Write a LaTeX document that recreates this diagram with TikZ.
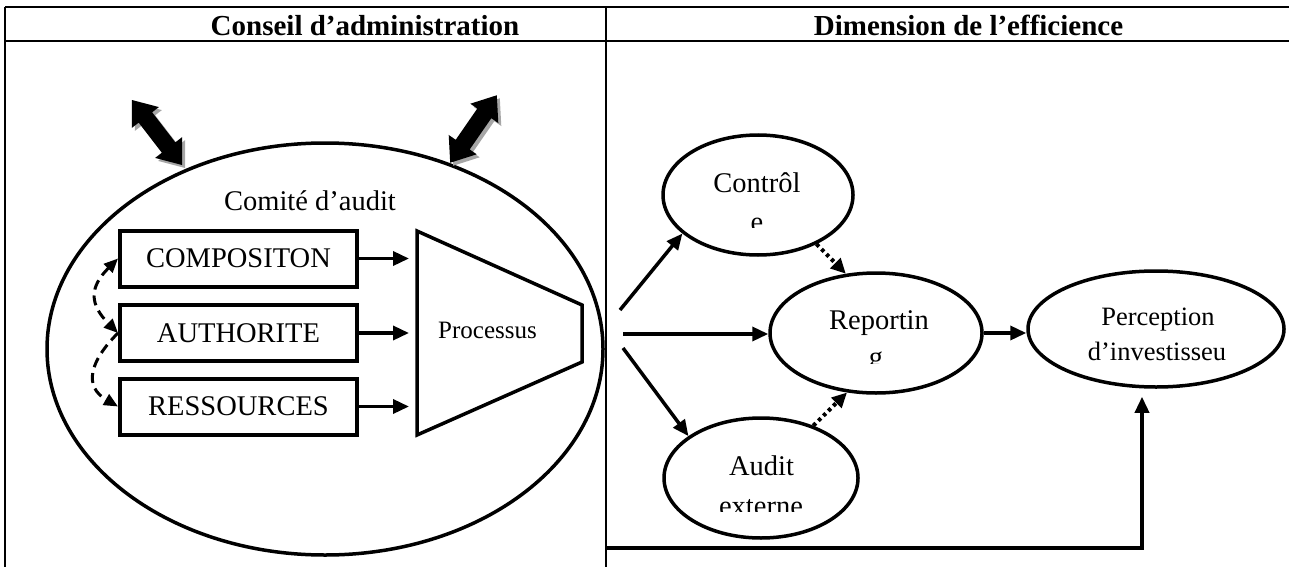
\documentclass[tikz,border=0pt]{standalone}
\usepackage{fontspec}
\setmainfont{Liberation Serif}
\usetikzlibrary{arrows.meta,shapes.geometric,calc}
\tikzset{
  hdr/.style={font=\fontsize{29}{33}\selectfont\bfseries, inner sep=0pt, anchor=base},
  bigtxt/.style={font=\fontsize{28.5}{34}\selectfont, inner sep=0pt, anchor=base},
  midtxt/.style={font=\fontsize{26.5}{32}\selectfont, inner sep=0pt, anchor=base},
  smalltxt/.style={font=\fontsize{25}{30}\selectfont, inner sep=0pt, anchor=base},
  boxnode/.style={draw, line width=4pt, minimum width=237pt, minimum height=56pt, inner sep=0pt, font=\fontsize{28.5}{34}\selectfont},
  ell/.style={draw, ellipse, line width=3.5pt, inner sep=0pt},
  tip/.style={-{Triangle[length=16pt,width=14pt]}},
  conn/.style={line width=3.5pt, tip},
  dotconn/.style={line width=4pt, dash pattern=on 3.5pt off 3.5pt, -{Triangle[length=15pt,width=14pt]}},
  dashconn/.style={line width=3pt, dash pattern=on 10pt off 6pt},
  fatarrow/.pic={\path[pic actions] (-41,0) -- (-19,17) -- (-19,8.5) -- (19,8.5) -- (19,17) -- (41,0) -- (19,-17) -- (19,-8.5) -- (-19,-8.5) -- (-19,-17) -- cycle;}
}
\begin{document}
\begin{tikzpicture}[x=1pt,y=-1pt]
\useasboundingbox (0,0) rectangle (1289,567);
% table
\draw[line width=2.5pt] (5,7) -- (1289,7);
\draw[line width=2.5pt] (5,41) -- (1289,41);
\draw[line width=2pt] (5,7) -- (5,567);
\draw[line width=2pt] (606,7) -- (606,567);
\node[hdr] (h1) at (365,36) {Conseil d’administration};
\node[hdr] (h2) at (968.5,36) {Dimension de l’efficience};
% big ellipse
\node[ell, minimum width=556pt, minimum height=412pt] (ca) at (325,349) {};
\node[bigtxt] (cat) at (310,210) {Comité d’audit};
% fat arrows with shadow
\pic[fill=black!35, rotate=-52.4] at (160,135.5) {fatarrow};
\pic[fill=black, rotate=-52.4] at (157,132.5) {fatarrow};
\pic[fill=black!35, rotate=55.35] at (476.5,132) {fatarrow};
\pic[fill=black, rotate=55.35] at (473.5,129) {fatarrow};
% boxes
\node[boxnode] (comp) at (238.5,258.5) {COMPOSITON};
\node[boxnode] (auth) at (238.5,333) {AUTHORITE};
\node[boxnode] (res) at (238.5,406.5) {RESSOURCES};
% trapezoid
\coordinate (t1) at (417,231);
\coordinate (t2) at (582,305);
\coordinate (t3) at (582,362);
\coordinate (t4) at (417,435);
\draw[line width=3.5pt, line join=miter] (t1) -- (t2) -- (t3) -- (t4) -- cycle;
\node[smalltxt] (proc) at (487.5,338) {Processus};
\coordinate (p1) at (409,258.5);
\coordinate (p2) at (409,333);
\coordinate (p3) at (409,406.5);
\draw[conn] (comp.east) -- (p1);
\draw[conn] (auth.east) -- (p2);
\draw[conn] (res.east) -- (p3);
% dashed arcs
\draw[dashconn, {Triangle[length=14pt,width=12pt]}-{Triangle[length=14pt,width=12pt]}] (comp.west) to[out=225,in=135,looseness=1.4] (auth.west);
\draw[dashconn, -{Triangle[length=14pt,width=12pt]}] (auth.west) to[out=225,in=150,looseness=1.4] (res.west);
% right column ellipses
\node[ell, minimum width=190pt, minimum height=120pt] (ctl) at (758,195) {};
\node[ell, minimum width=212pt, minimum height=120pt] (rep) at (876,333) {};
\node[ell, minimum width=194pt, minimum height=120pt] (aud) at (761,478) {};
\node[ell, minimum width=256pt, minimum height=116pt] (per) at (1156,329) {};
\node[bigtxt] (ctlt) at (757,192) {Contrôl};
\node[bigtxt] (rept) at (879,329) {Reportin};
\node[bigtxt] (audt) at (761.5,475) {Audit};
\node[midtxt] (pert1) at (1158,325) {Perception};
\node[midtxt] (pert2) at (1157,360) {d’investisseu};
\begin{scope}
\clip (700,200) rectangle (820,227);
\node[bigtxt] (ctlt2) at (757,231) {e};
\end{scope}
\begin{scope}
\clip (820,340) rectangle (940,363);
\node[bigtxt] (rept2) at (876,366) {g};
\end{scope}
\begin{scope}
\clip (700,480) rectangle (830,511);
\node[bigtxt] (audt2) at (761,515) {externe};
\end{scope}
% fan arrows
\coordinate (f1) at (620,310);
\coordinate (f2) at (623,334);
\coordinate (f3) at (623,348);
\draw[conn] (f1) -- (ctl.207);
\draw[conn] (f2) -- (rep.west |- f2);
\draw[conn] (f3) -- (aud.150);
% dotted arrows
\draw[dotconn] (ctl.-40) -- (rep.117);
\draw[dotconn] (aud.45) -- (rep.244);
% reporting to perception
\draw[conn] (rep.east) -- (rep.east -| per.west);
% bottom connector
\coordinate (bl) at (606,548);
\draw[conn, line join=miter] (bl) -| ([xshift=-14pt,yshift=-8pt]per.south);
\end{tikzpicture}
\end{document}
